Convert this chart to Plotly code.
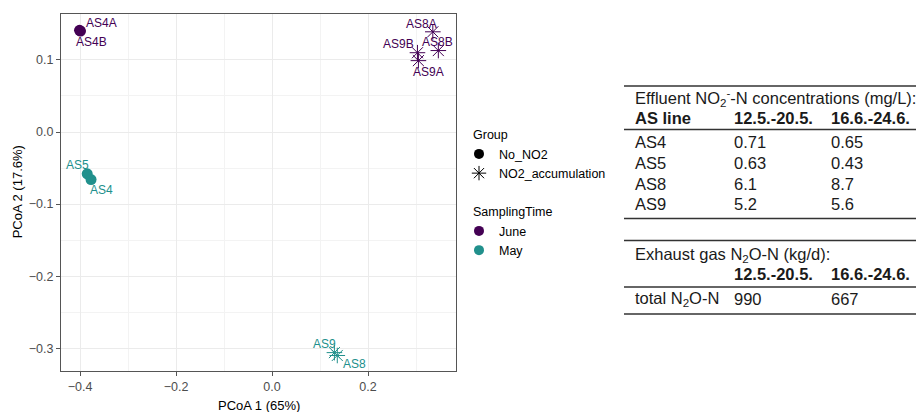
import plotly.graph_objects as go

# ---------------- data ----------------
sample_labels = ["AS4A", "AS4B", "AS5", "AS4", "AS8A", "AS8B", "AS9B", "AS9A", "AS9", "AS8"]
pcoa1 = [-0.401, -0.399, -0.385, -0.377, 0.335, 0.3465, 0.303, 0.305, 0.130, 0.136]
pcoa2 = [0.141, 0.140, -0.058, -0.066, 0.139, 0.113, 0.110, 0.099, -0.306, -0.310]
group = ["No_NO2", "No_NO2", "No_NO2", "No_NO2",
         "NO2_accumulation", "NO2_accumulation", "NO2_accumulation", "NO2_accumulation",
         "NO2_accumulation", "NO2_accumulation"]
sampling_time = ["June", "June", "May", "May", "June", "June", "June", "June", "May", "May"]

group_levels = ["No_NO2", "NO2_accumulation"]
time_levels = ["June", "May"]

x_ticks = [-0.4, -0.2, 0.0, 0.2]
y_ticks = [0.1, 0.0, -0.1, -0.2, -0.3]
x_title = "PCoA 1 (65%)"
y_title = "PCoA 2 (17.6%)"

table1_title = "Effluent NO<sub>2</sub><sup>-</sup>-N concentrations (mg/L):"
table_header = ["AS line", "12.5.-20.5.", "16.6.-24.6."]
as_lines = ["AS4", "AS5", "AS8", "AS9"]
no2_period1 = ["0.71", "0.63", "6.1", "5.2"]
no2_period2 = ["0.65", "0.43", "8.7", "5.6"]
table2_title = "Exhaust gas N<sub>2</sub>O-N (kg/d):"
n2o_row_label = ["total N<sub>2</sub>O-N"]
n2o_period1 = ["990"]
n2o_period2 = ["667"]

# ---------------- styles ----------------
W, H = 916, 412
FONT = "Liberation Sans, Arial, sans-serif"
time_colors = {"June": "#440154", "May": "#21908C"}
group_symbols = {"No_NO2": "circle", "NO2_accumulation": "asterisk-open"}
group_sizes = {"No_NO2": 11, "NO2_accumulation": 13}
# label pixel offsets (dx right, dy down) from each point
label_dx = [21.5, 11.5, -10.2, 10.3, -11.0, -1.3, -18.7, 10.3, -9.5, 17.0]
label_dy = [-7.3, 10.7, -8.7, 10.0, -7.7, -8.7, -9.0, 11.0, -9.0, 8.7]

# panel in pixels
P_L, P_R, P_T, P_B = 61, 456, 14, 370.7


def px_x(p):
    return p / W


def px_y(p):
    return 1 - p / H


fig = go.Figure()

# data points
for t in time_levels:
    for g in group_levels:
        idx = [i for i in range(len(sample_labels)) if group[i] == g and sampling_time[i] == t]
        if not idx:
            continue
        fig.add_trace(go.Scatter(
            x=[pcoa1[i] for i in idx], y=[pcoa2[i] for i in idx],
            mode="markers", showlegend=False, hoverinfo="skip",
            marker=dict(symbol=group_symbols[g], size=group_sizes[g], color=time_colors[t],
                        line=dict(color=time_colors[t], width=1 if g != "No_NO2" else 0)),
        ))

# point labels
for i, lab in enumerate(sample_labels):
    fig.add_annotation(x=pcoa1[i], y=pcoa2[i], xref="x", yref="y", text=lab, showarrow=False,
                       xshift=label_dx[i], yshift=-label_dy[i],
                       font=dict(family=FONT, size=12, color=time_colors[sampling_time[i]]))

# legend entries: Group
for g in group_levels:
    fig.add_trace(go.Scatter(
        x=[None], y=[None], mode="markers", name=g, legend="legend",
        marker=dict(symbol=group_symbols[g], size=group_sizes[g] - 1, color="black",
                    line=dict(color="black", width=1 if g != "No_NO2" else 0)),
    ))
# legend entries: SamplingTime
for t in time_levels:
    fig.add_trace(go.Scatter(
        x=[None], y=[None], mode="markers", name=t, legend="legend2",
        marker=dict(symbol="circle", size=10, color=time_colors[t]),
    ))

axis_common = dict(
    showgrid=True, gridcolor="#EBEBEB", gridwidth=1,
    zeroline=False, showline=True, linecolor="#555555", linewidth=1, mirror=True,
    ticks="outside", ticklen=4, tickwidth=1, tickcolor="#555555",
    tickfont=dict(family=FONT, size=12.5, color="#4D4D4D"),
    automargin=False,
)

fig.update_layout(
    width=W, height=H,
    margin=dict(l=0, r=0, t=0, b=0),
    paper_bgcolor="white", plot_bgcolor="white",
    font=dict(family=FONT, color="black"),
    xaxis=dict(domain=[px_x(P_L), px_x(P_R)], range=[-0.4396, 0.3833],
               tickvals=x_ticks, ticktext=[f"{v:.1f}".replace("-", "\u2212") for v in x_ticks],
               minor=dict(showgrid=True, gridcolor="#F3F3F3", gridwidth=0.6,
                          tickvals=[-0.3, -0.1, 0.1, 0.3]),
               **axis_common),
    yaxis=dict(domain=[px_y(P_B), px_y(P_T)], range=[-0.3311, 0.1637],
               tickvals=y_ticks, ticktext=[f"{v:.1f}".replace("-", "\u2212") for v in y_ticks],
               minor=dict(showgrid=True, gridcolor="#F3F3F3", gridwidth=0.6,
                          tickvals=[0.05, -0.05, -0.15, -0.25]),
               **axis_common),
    legend=dict(title=dict(text="Group", font=dict(family=FONT, size=12.5)),
                x=px_x(471), xanchor="left", y=px_y(123), yanchor="top",
                font=dict(family=FONT, size=12.5), indentation=-12,
                bgcolor="rgba(0,0,0,0)", tracegroupgap=0),
    legend2=dict(title=dict(text="SamplingTime", font=dict(family=FONT, size=12.5)),
                 x=px_x(471), xanchor="left", y=px_y(200), yanchor="top",
                 font=dict(family=FONT, size=12.5), indentation=-12,
                 bgcolor="rgba(0,0,0,0)", tracegroupgap=0),
)

# axis titles
fig.add_annotation(x=px_x((P_L + P_R) / 2), y=px_y(405), xref="paper", yref="paper",
                   text=x_title, showarrow=False, xanchor="center", yanchor="middle",
                   font=dict(family=FONT, size=13, color="black"))
fig.add_annotation(x=px_x(17), y=px_y((P_T + P_B) / 2), xref="paper", yref="paper",
                   text=y_title, showarrow=False, textangle=-90, xanchor="center", yanchor="middle",
                   font=dict(family=FONT, size=13, color="black"))

# ---------------- tables ----------------
TF = 16.5
col_x = [633, 732, 829]
line_x0, line_x1 = 624, 916


def tline(ypix, width=1.6):
    fig.add_shape(type="line", xref="paper", yref="paper",
                  x0=px_x(line_x0), x1=px_x(line_x1), y0=px_y(ypix), y1=px_y(ypix),
                  line=dict(color="#333333", width=width))


def ttext(xpix, ypix, text, bold=False):
    fig.add_annotation(x=px_x(xpix), y=px_y(ypix), xref="paper", yref="paper",
                       text=f"<b>{text}</b>" if bold else text, showarrow=False,
                       xanchor="left", yanchor="middle",
                       font=dict(family=FONT, size=TF, color="#1A1A1A"))


# table 1
tline(86)
ttext(col_x[0], 98, table1_title)
for j, h in enumerate(table_header):
    ttext(col_x[j], 118, h, bold=True)
tline(129.5)
row_y = [141.5, 162.5, 183.5, 204.5]
for r in range(len(as_lines)):
    ttext(col_x[0], row_y[r], as_lines[r])
    ttext(col_x[1], row_y[r], no2_period1[r])
    ttext(col_x[2], row_y[r], no2_period2[r])
tline(218.5)

# table 2
tline(240.5)
ttext(col_x[0], 254.5, table2_title)
ttext(col_x[1], 273.5, table_header[1], bold=True)
ttext(col_x[2], 273.5, table_header[2], bold=True)
tline(287)
for r in range(len(n2o_row_label)):
    ttext(col_x[0], 298.5, n2o_row_label[r])
    ttext(col_x[1], 298.5, n2o_period1[r])
    ttext(col_x[2], 298.5, n2o_period2[r])
tline(314)

fig.write_html("out.html")
